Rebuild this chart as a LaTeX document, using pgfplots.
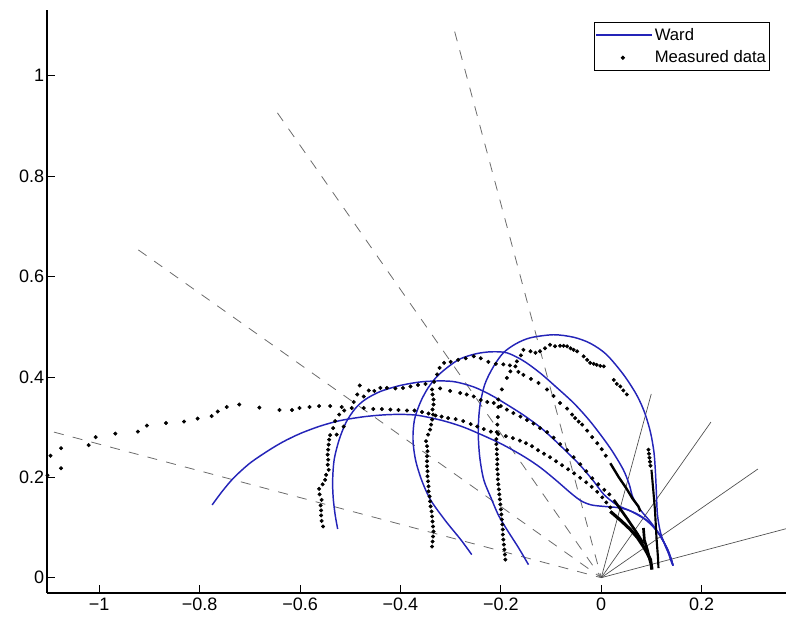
\documentclass[border=0pt]{standalone}
\usepackage{fontspec}
\setmainfont{Liberation Sans}
\usepackage{pgfplots}
\pgfplotsset{compat=1.18}
\definecolor{wardblue}{rgb}{0.14,0.14,0.72}
\definecolor{dashgray}{gray}{0.42}
\definecolor{raygray}{gray}{0.3}
\begin{document}
\begin{tikzpicture}
\useasboundingbox (0,0) rectangle (589.5pt,462.75pt);
\begin{axis}[
  at={(35.25pt,18pt)}, anchor=south west,
  width=554.25pt, height=437.25pt, scale only axis,
  xmin=-1.104, xmax=0.368, ymin=-0.0305, ymax=1.131,
  axis x line*=bottom, axis y line*=left,
  axis line style={-, line width=0.8pt},
  tick align=inside, major tick length=6pt,
  tick style={black, line width=0.6pt},
  xtick={-1,-0.8,-0.6,-0.4,-0.2,0,0.2},
  xticklabels={−1,−0.8,−0.6,−0.4,−0.2,0,0.2},
  ytick={0,0.2,0.4,0.6,0.8,1},
  yticklabels={0,0.2,0.4,0.6,0.8,1},
  ticklabel style={font=\fontsize{13.5}{15}\selectfont},
  yticklabel style={inner sep=2pt},
  legend cell align=left,
  legend style={at={(0.978,0.979)}, anchor=north east, draw=black,
    line width=0.6pt, fill=white, font=\fontsize{12.5}{14}\selectfont,
    inner xsep=1pt, inner ysep=2.5pt, row sep=3.5pt,
    nodes={inner sep=1.5pt},
    /tikz/every even column/.append style={column sep=0pt}},
]
% dashed rays
\addplot[dashgray, line width=0.6pt, dash pattern=on 7.5pt off 7pt, forget plot]
  coordinates {(-1.09,0.29) (0,0)};
\addplot[dashgray, line width=0.6pt, dash pattern=on 7.5pt off 7pt, forget plot]
  coordinates {(-0.922,0.653) (0,0)};
\addplot[dashgray, line width=0.6pt, dash pattern=on 7.5pt off 7pt, forget plot]
  coordinates {(-0.645,0.926) (0,0)};
\addplot[dashgray, line width=0.6pt, dash pattern=on 7.5pt off 7pt, forget plot]
  coordinates {(-0.292,1.088) (0,0)};
% solid rays
\addplot[raygray, line width=0.5pt, forget plot] coordinates {(0,0) (0.0996,0.366)};
\addplot[raygray, line width=0.5pt, forget plot] coordinates {(0,0) (0.2185,0.310)};
\addplot[raygray, line width=0.5pt, forget plot] coordinates {(0,0) (0.312,0.2165)};
\addplot[raygray, line width=0.5pt, forget plot] coordinates {(0,0) (0.40,0.106)};

% Ward curves
\addplot[wardblue, line width=1.1pt, smooth,
  legend image code/.code={\draw[wardblue, line width=1pt] (-1pt,0pt) -- (41pt,0pt);}]
  coordinates {
  (-0.775,0.145) (-0.755,0.172) (-0.732,0.199) (-0.700,0.228) (-0.665,0.252)
  (-0.635,0.270) (-0.600,0.287) (-0.560,0.302) (-0.520,0.313) (-0.470,0.321)
  (-0.420,0.325) (-0.370,0.324) (-0.320,0.314) (-0.280,0.302) (-0.248,0.289)
  (-0.200,0.267) (-0.155,0.242) (-0.122,0.220) (-0.090,0.194) (-0.060,0.168)
  (-0.040,0.153) (-0.020,0.145) (0.005,0.142) (0.030,0.140) (0.050,0.136)
  (0.075,0.125) (0.098,0.108) (0.118,0.083) (0.131,0.058) (0.140,0.035) (0.143,0.024)};
\addlegendentry{Ward}
\addplot[wardblue, line width=1.1pt, smooth, forget plot] coordinates {
  (-0.525,0.097) (-0.530,0.125) (-0.534,0.160) (-0.535,0.195) (-0.532,0.235)
  (-0.522,0.275) (-0.508,0.310) (-0.490,0.337) (-0.470,0.355) (-0.440,0.371)
  (-0.400,0.383) (-0.360,0.390) (-0.320,0.392) (-0.290,0.390) (-0.254,0.380)
  (-0.220,0.364) (-0.188,0.345) (-0.155,0.324) (-0.122,0.300) (-0.095,0.276)
  (-0.068,0.250) (-0.042,0.224) (-0.015,0.192) (0.005,0.166) (0.031,0.145)
  (0.060,0.132) (0.090,0.114) (0.115,0.088) (0.130,0.060) (0.138,0.036) (0.142,0.026)};
\addplot[wardblue, line width=1.1pt, smooth, forget plot] coordinates {
  (-0.258,0.046) (-0.280,0.076) (-0.310,0.113) (-0.340,0.155) (-0.358,0.195)
  (-0.370,0.235) (-0.375,0.275) (-0.372,0.315) (-0.360,0.350) (-0.345,0.378)
  (-0.327,0.401) (-0.305,0.420) (-0.281,0.436) (-0.250,0.446) (-0.220,0.450)
  (-0.188,0.448) (-0.155,0.432) (-0.122,0.408) (-0.090,0.380) (-0.055,0.348)
  (-0.025,0.315) (0.000,0.283) (0.022,0.252) (0.044,0.215) (0.056,0.185)
  (0.063,0.160) (0.078,0.135) (0.095,0.115) (0.110,0.095) (0.122,0.075)
  (0.133,0.055) (0.140,0.035) (0.143,0.024)};
\addplot[wardblue, line width=1.1pt, smooth, forget plot] coordinates {
  (-0.145,0.026) (-0.165,0.060) (-0.188,0.096) (-0.205,0.125) (-0.220,0.160)
  (-0.234,0.195) (-0.242,0.240) (-0.245,0.290) (-0.242,0.340) (-0.232,0.385)
  (-0.215,0.420) (-0.195,0.448) (-0.170,0.466) (-0.141,0.478) (-0.095,0.484)
  (-0.055,0.479) (-0.022,0.467) (0.010,0.445) (0.044,0.405) (0.070,0.365)
  (0.086,0.330) (0.098,0.290) (0.105,0.250) (0.108,0.209) (0.110,0.165)
  (0.112,0.125) (0.118,0.090) (0.128,0.062) (0.138,0.040) (0.143,0.024)};

% measured data: dense strokes near the start
\addplot[black, line width=2.4pt, forget plot] coordinates {
  (0.018,0.132) (0.040,0.113) (0.058,0.096) (0.072,0.080) (0.084,0.062)
  (0.092,0.048) (0.098,0.036) (0.101,0.016)};
\addplot[black, line width=2.0pt, forget plot] coordinates {
  (0.025,0.155) (0.050,0.120) (0.071,0.089) (0.084,0.068)};
\addplot[black, line width=1.8pt, forget plot] coordinates {
  (0.018,0.228) (0.035,0.200) (0.050,0.178) (0.062,0.158) (0.074,0.142) (0.078,0.132)};
\addplot[black, line width=2.0pt, forget plot] coordinates {
  (0.084,0.099) (0.086,0.075) (0.092,0.055) (0.098,0.030)};
\addplot[black, line width=1.6pt, forget plot] coordinates {
  (0.100,0.215) (0.104,0.170) (0.107,0.135) (0.110,0.080) (0.113,0.040) (0.114,0.019)};

\addplot[black, only marks, mark=*, mark size=1.3pt,
  legend image code/.code={\fill[black] (19pt,0pt) circle (1.3pt);
    \path[draw=none, fill=none] (-1pt,-0.1pt) rectangle (41pt,0.1pt);}]
  coordinates {
  % track 1
  (-1.103,0.204) (-1.076,0.218) (-1.097,0.243) (-1.076,0.258) (-1.021,0.264)
  (-1.007,0.280) (-0.968,0.287) (-0.923,0.291) (-0.905,0.303) (-0.867,0.308)
  (-0.831,0.311) (-0.804,0.317) (-0.776,0.322) (-0.764,0.331) (-0.746,0.340)
  (-0.721,0.345) (-0.681,0.339) (-0.641,0.334) (-0.616,0.334) (-0.601,0.338)
  (-0.581,0.340) (-0.562,0.342) (-0.540,0.342) (-0.517,0.340) (-0.497,0.338)
  (-0.473,0.338) (-0.454,0.336) (-0.437,0.336) (-0.420,0.335) (-0.404,0.334)
  (-0.387,0.333) (-0.372,0.333) (-0.357,0.330) (-0.344,0.327) (-0.330,0.323)
  (-0.318,0.321) (-0.305,0.318) (-0.290,0.316) (-0.275,0.312) (-0.260,0.306)
  (-0.247,0.301) (-0.234,0.296) (-0.220,0.291) (-0.205,0.286) (-0.190,0.282)
  (-0.176,0.278) (-0.162,0.273) (-0.150,0.268) (-0.138,0.262) (-0.126,0.254)
  (-0.114,0.247) (-0.102,0.240) (-0.090,0.232) (-0.078,0.224) (-0.066,0.216)
  (-0.054,0.208) (-0.042,0.199) (-0.030,0.190) (-0.019,0.181) (-0.008,0.171)
  (0.002,0.160) (0.010,0.150) (0.018,0.140)
  % track 2
  (-0.554,0.102) (-0.557,0.113) (-0.558,0.124) (-0.558,0.134) (-0.559,0.144)
  (-0.557,0.155) (-0.561,0.166) (-0.562,0.177) (-0.555,0.186) (-0.550,0.195)
  (-0.548,0.205) (-0.543,0.215) (-0.545,0.225) (-0.544,0.235) (-0.545,0.245)
  (-0.544,0.255) (-0.543,0.265) (-0.542,0.275) (-0.540,0.284) (-0.534,0.298)
  (-0.530,0.312) (-0.522,0.325) (-0.512,0.333) (-0.527,0.285) (-0.513,0.301)
  (-0.493,0.350) (-0.486,0.365) (-0.481,0.383) (-0.473,0.361) (-0.463,0.373)
  (-0.452,0.372) (-0.440,0.378) (-0.427,0.378) (-0.410,0.377) (-0.395,0.378)
  (-0.380,0.381) (-0.365,0.384) (-0.350,0.386) (-0.321,0.377) (-0.301,0.372)
  (-0.281,0.368) (-0.268,0.365) (-0.254,0.361) (-0.240,0.354) (-0.227,0.350)
  (-0.214,0.348) (-0.200,0.342) (-0.188,0.335) (-0.175,0.328) (-0.161,0.321)
  (-0.148,0.314) (-0.135,0.307) (-0.122,0.298) (-0.108,0.290) (-0.095,0.279)
  (-0.082,0.266) (-0.068,0.254) (-0.055,0.240) (-0.042,0.226) (-0.030,0.212)
  (-0.018,0.198) (-0.006,0.186) (0.006,0.175) (0.016,0.166)
  % track 3
  (-0.337,0.062) (-0.336,0.072) (-0.335,0.082) (-0.334,0.092) (-0.335,0.102)
  (-0.336,0.112) (-0.337,0.122) (-0.338,0.132) (-0.340,0.142) (-0.341,0.152)
  (-0.342,0.162) (-0.344,0.172) (-0.344,0.182) (-0.345,0.192) (-0.346,0.202)
  (-0.346,0.212) (-0.347,0.222) (-0.347,0.232) (-0.347,0.242) (-0.346,0.252)
  (-0.347,0.262) (-0.349,0.272) (-0.345,0.285) (-0.341,0.295) (-0.339,0.305)
  (-0.337,0.315) (-0.335,0.325) (-0.336,0.335) (-0.334,0.345) (-0.334,0.355)
  (-0.336,0.365) (-0.337,0.375) (-0.333,0.390) (-0.327,0.405) (-0.322,0.418)
  (-0.313,0.428) (-0.300,0.430) (-0.285,0.434) (-0.270,0.437) (-0.254,0.441)
  (-0.240,0.437) (-0.225,0.430) (-0.210,0.426) (-0.195,0.425) (-0.182,0.423)
  (-0.165,0.410) (-0.155,0.404) (-0.140,0.396) (-0.125,0.388) (-0.108,0.375)
  (-0.095,0.362) (-0.082,0.348) (-0.068,0.337) (-0.058,0.325) (-0.052,0.318)
  (-0.045,0.311) (-0.038,0.305) (-0.028,0.293) (-0.018,0.280) (-0.008,0.268)
  (0.001,0.256) (0.009,0.243)
  % track 4
  (-0.191,0.036) (-0.192,0.046) (-0.193,0.056) (-0.194,0.066) (-0.195,0.076)
  (-0.196,0.086) (-0.196,0.096) (-0.197,0.106) (-0.198,0.116) (-0.199,0.126)
  (-0.200,0.136) (-0.201,0.146) (-0.202,0.156) (-0.203,0.166) (-0.204,0.176)
  (-0.205,0.186) (-0.206,0.196) (-0.206,0.206) (-0.207,0.216) (-0.207,0.226)
  (-0.207,0.236) (-0.208,0.246) (-0.208,0.256) (-0.209,0.266) (-0.209,0.276)
  (-0.208,0.290) (-0.207,0.305) (-0.206,0.320) (-0.205,0.340) (-0.205,0.355)
  (-0.198,0.375) (-0.188,0.398) (-0.181,0.411) (-0.171,0.421) (-0.168,0.431)
  (-0.160,0.443) (-0.155,0.454) (-0.141,0.451) (-0.131,0.448) (-0.122,0.451)
  (-0.112,0.457) (-0.102,0.464) (-0.092,0.461) (-0.082,0.462) (-0.075,0.462)
  (-0.068,0.461) (-0.061,0.457) (-0.055,0.454) (-0.048,0.451) (-0.035,0.441)
  (-0.028,0.434) (-0.022,0.428) (-0.015,0.426) (-0.009,0.424) (-0.002,0.422)
  (0.005,0.421) (0.025,0.394) (0.031,0.386) (0.038,0.381) (0.044,0.373)
  (0.051,0.365)
  (0.094,0.255) (0.095,0.247) (0.096,0.239) (0.097,0.231) (0.098,0.223)
  };
\addlegendentry{Measured data}
\end{axis}
\end{tikzpicture}
\end{document}
